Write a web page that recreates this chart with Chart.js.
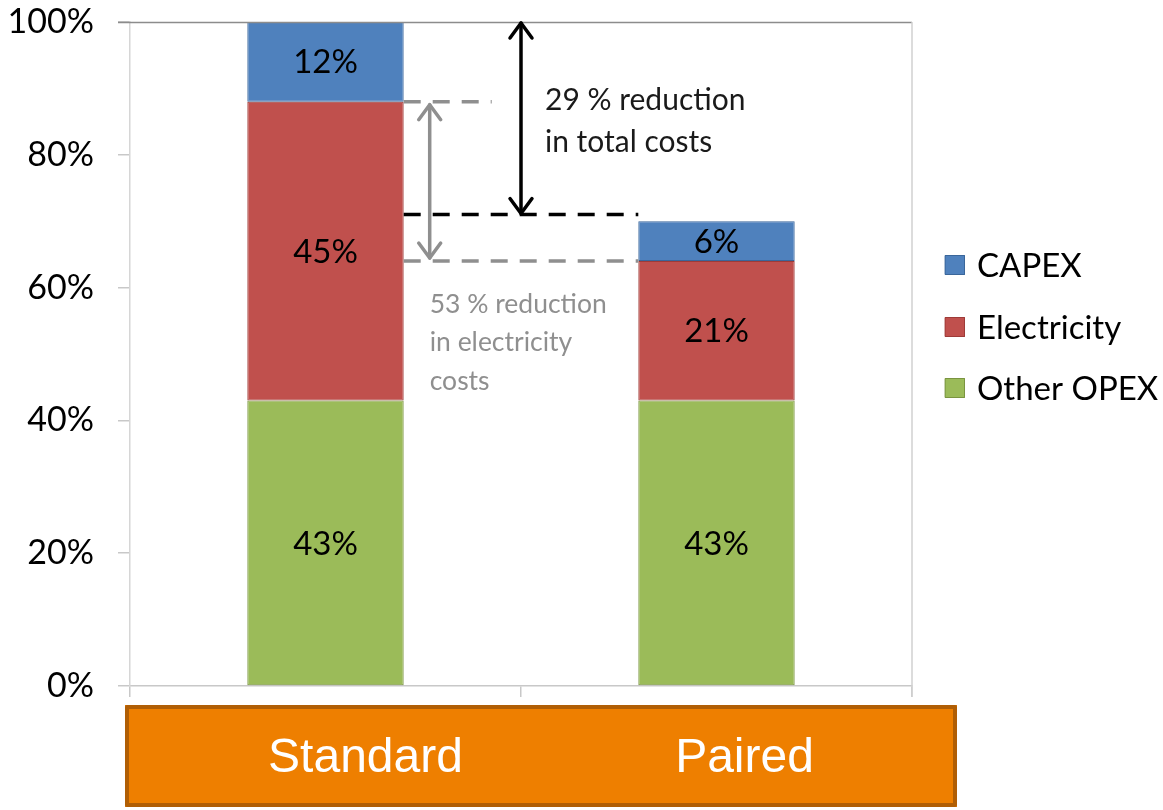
<!DOCTYPE html>
<html>
<head>
<meta charset="utf-8">
<script src="https://cdn.jsdelivr.net/npm/chart.js@4.4.1/dist/chart.umd.min.js"></script>
<style>
  html, body { margin: 0; padding: 0; background: #ffffff; }
  #wrap { width: 1163px; height: 810px; position: relative; }
</style>
</head>
<body>
<div id="wrap"><canvas id="chart" width="1163" height="810"></canvas></div>
<script>
// Cost breakdown, standard vs paired process (share of standard total cost, %)
const categories = ['Standard', 'Paired'];
const otherOpex = [43, 43];
const electricity = [45, 21];
const capex = [12, 6];
const yTickValues = [0, 20, 40, 60, 80, 100];

// Reductions called out on the chart (%)
const totalReduction = 29;
const electricityReduction = 53;

const seriesNames = ['Other OPEX', 'Electricity', 'CAPEX'];
const seriesColors = ['#9BBB59', '#C0504D', '#4F81BD'];
const seriesBorders = ['#7A9440', '#9E3B38', '#3A669A'];

const FONT = 'Lato, "Open Sans", sans-serif';

// Percent labels centred inside each stacked segment
const segmentLabels = {
  id: 'segmentLabels',
  afterDatasetsDraw(chart) {
    const ctx = chart.ctx;
    ctx.save();
    ctx.font = '33px ' + FONT;
    ctx.fillStyle = '#000';
    ctx.textAlign = 'center';
    ctx.textBaseline = 'middle';
    chart.data.datasets.forEach((ds, di) => {
      chart.getDatasetMeta(di).data.forEach((bar, i) => {
        const v = ds.data[i];
        ctx.fillText(v + '%', bar.x, (bar.y + bar.base) / 2 + 1);
      });
    });
    ctx.restore();
  }
};

function arrowHead(ctx, x, y, dir) {
  // dir = -1 pointing up, +1 pointing down
  ctx.beginPath();
  ctx.moveTo(x - 11, y - dir * 15);
  ctx.lineTo(x, y);
  ctx.lineTo(x + 11, y - dir * 15);
  ctx.stroke();
}

function doubleArrow(ctx, x, yTop, yBottom, color) {
  ctx.strokeStyle = color;
  ctx.lineWidth = 3.5;
  ctx.setLineDash([]);
  ctx.lineCap = 'round';
  ctx.lineJoin = 'round';
  ctx.beginPath();
  ctx.moveTo(x, yTop + 1);
  ctx.lineTo(x, yBottom - 1);
  ctx.stroke();
  arrowHead(ctx, x, yTop + 1, -1);
  arrowHead(ctx, x, yBottom - 1, 1);
}

function dashedLine(ctx, x1, x2, y, color) {
  ctx.strokeStyle = color;
  ctx.lineWidth = 3.5;
  ctx.lineCap = 'butt';
  ctx.setLineDash([17, 12]);
  ctx.beginPath();
  ctx.moveTo(x1, y);
  ctx.lineTo(x2, y);
  ctx.stroke();
  ctx.setLineDash([]);
}

// Frame, reduction callouts, legend and category banner
const decorations = {
  id: 'decorations',
  beforeDraw(chart) {
    const ctx = chart.ctx;
    ctx.save();
    ctx.fillStyle = '#ffffff';
    ctx.fillRect(0, 0, chart.width, chart.height);
    ctx.restore();
  },
  afterDraw(chart) {
    const ctx = chart.ctx;
    const area = chart.chartArea;
    const ys = chart.scales.y;
    const xs = chart.scales.x;
    ctx.save();

    // plot frame: top and right edges
    ctx.strokeStyle = '#8c8c8c';
    ctx.lineWidth = 1.5;
    ctx.beginPath();
    ctx.moveTo(area.left - 12, area.top + 0.5);
    ctx.lineTo(area.right, area.top + 0.5);
    ctx.stroke();
    ctx.strokeStyle = '#d0d0d0';
    ctx.lineWidth = 1.5;
    ctx.beginPath();
    ctx.moveTo(area.right, area.top);
    ctx.lineTo(area.right, area.bottom + 11);
    ctx.stroke();

    const stdBars = chart.getDatasetMeta(0).data;
    const w = stdBars[0].width;
    const stdRight = stdBars[0].x + w / 2;
    const pairedLeft = stdBars[1].x - w / 2;

    const stdTotal = otherOpex[0] + electricity[0] + capex[0];
    const reducedTotal = stdTotal * (1 - totalReduction / 100);
    const stdNoCapex = otherOpex[0] + electricity[0];
    const pairedNoCapex = otherOpex[1] + electricity[1];

    const yTop = ys.getPixelForValue(stdTotal);
    const yReduced = ys.getPixelForValue(reducedTotal);
    const yStdElec = ys.getPixelForValue(stdNoCapex);
    const yPairedElec = ys.getPixelForValue(pairedNoCapex);
    const midX = (xs.getPixelForValue(0) + xs.getPixelForValue(1)) / 2;

    // electricity callout (grey)
    dashedLine(ctx, stdRight, stdRight + 88, yStdElec, '#8f8f8f');
    dashedLine(ctx, stdRight, pairedLeft, yPairedElec, '#8f8f8f');
    doubleArrow(ctx, stdRight + 26, yStdElec + 2, yPairedElec - 2, '#8f8f8f');

    // total cost callout (black)
    dashedLine(ctx, stdRight, pairedLeft, yReduced, '#000000');
    doubleArrow(ctx, midX, yTop, yReduced, '#000000');

    ctx.textAlign = 'left';
    ctx.textBaseline = 'middle';
    ctx.fillStyle = '#1a1a1a';
    ctx.font = '30px ' + FONT;
    ctx.fillText(totalReduction + ' % reduction', midX + 24, 100);
    ctx.fillText('in total costs', midX + 24, 142);

    ctx.fillStyle = '#8f8f8f';
    ctx.font = '26.5px ' + FONT;
    ctx.fillText(electricityReduction + ' % reduction', stdRight + 26, 304);
    ctx.fillText('in electricity', stdRight + 26, 342);
    ctx.fillText('costs', stdRight + 26, 381);

    // legend
    const legendRows = [2, 1, 0];
    const legendY = [265, 327, 388];
    ctx.font = '33px ' + FONT;
    legendRows.forEach((si, k) => {
      const y = legendY[k];
      ctx.fillStyle = seriesColors[si];
      ctx.fillRect(945, y - 10, 20, 20);
      ctx.strokeStyle = seriesBorders[si];
      ctx.lineWidth = 1;
      ctx.strokeRect(945.5, y - 9.5, 19, 19);
      ctx.fillStyle = '#000';
      ctx.fillText(seriesNames[si], 977, y + 1);
    });

    // category banner
    const bx = 125, by = 705, bw = 832, bh = 102;
    ctx.fillStyle = '#EE7F00';
    ctx.fillRect(bx, by, bw, bh);
    ctx.strokeStyle = '#B05E05';
    ctx.lineWidth = 4;
    ctx.strokeRect(bx + 2, by + 2, bw - 4, bh - 4);

    ctx.fillStyle = '#ffffff';
    ctx.font = '48px "Liberation Sans", Arial, sans-serif';
    ctx.textAlign = 'center';
    ctx.textBaseline = 'middle';
    const labelShift = [40, 28];
    categories.forEach((c, i) => {
      ctx.fillText(c, xs.getPixelForValue(i) + labelShift[i], 759);
    });

    ctx.restore();
  }
};

const datasets = [otherOpex, electricity, capex].map((data, i) => ({
  label: seriesNames[i],
  data: data,
  backgroundColor: seriesColors[i],
  borderColor: seriesBorders[i],
  borderWidth: 1,
  borderSkipped: false,
  barPercentage: 0.4,
  categoryPercentage: 1.0
}));

new Chart(document.getElementById('chart'), {
  type: 'bar',
  data: { labels: categories, datasets: datasets },
  options: {
    responsive: false,
    animation: false,
    devicePixelRatio: 1,
    layout: { padding: { left: 0, top: 22, right: 251, bottom: 0 } },
    plugins: {
      legend: { display: false },
      tooltip: { enabled: false }
    },
    scales: {
      x: {
        stacked: true,
        offset: true,
        grid: {
          offset: true,
          drawOnChartArea: false,
          drawTicks: true,
          tickLength: 11,
          color: '#c8c8c8',
          lineWidth: 1.5
        },
        border: { display: true, color: '#c8c8c8', width: 1.5 },
        ticks: { display: false },
        afterFit(scale) { scale.height = 124; }
      },
      y: {
        stacked: true,
        min: 0,
        max: 100,
        afterBuildTicks(scale) {
          scale.ticks = yTickValues.map(v => ({ value: v }));
        },
        grid: {
          drawOnChartArea: false,
          drawTicks: true,
          tickLength: 12,
          color: '#c8c8c8',
          lineWidth: 1.5
        },
        border: { display: true, color: '#d6d6d6', width: 1.5 },
        ticks: {
          color: '#000',
          padding: 24,
          font: { family: 'Lato', size: 34 },
          callback: v => v + '%'
        },
        afterFit(scale) {
          scale.width = 130;
          scale.paddingTop = 0;
          scale.paddingBottom = 0;
        }
      }
    }
  },
  plugins: [segmentLabels, decorations]
});
</script>
</body>
</html>
